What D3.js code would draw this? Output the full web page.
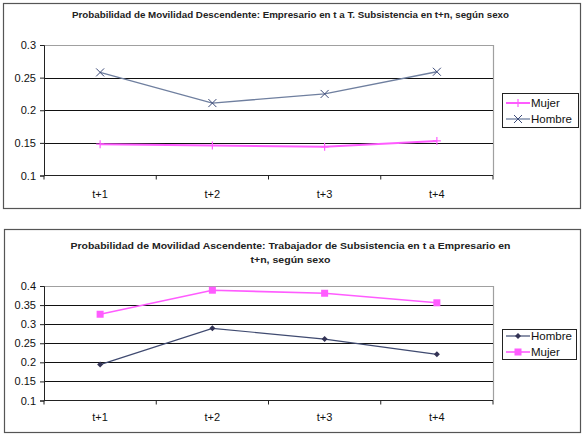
<!DOCTYPE html>
<html><head><meta charset="utf-8">
<script src="https://cdn.jsdelivr.net/npm/d3@7"></script>
<style>html,body{margin:0;padding:0;background:#fff;}svg{display:block;}</style>
</head><body>
<svg id="chart" width="584" height="438"></svg>
<script>
const categories = ["t+1", "t+2", "t+3", "t+4"];
const descTitle = ["Probabilidad de Movilidad Descendente: Empresario en t a T. Subsistencia en t+n, según sexo"];
const descMujer = [0.148, 0.146, 0.144, 0.153];
const descHombre = [0.258, 0.211, 0.225, 0.259];
const descTicks = [0.1, 0.15, 0.2, 0.25, 0.3];
const ascTitle = ["Probabilidad de Movilidad Ascendente: Trabajador de Subsistencia en t a Empresario en", "t+n, según sexo"];
const ascHombre = [0.194, 0.289, 0.261, 0.221];
const ascMujer = [0.326, 0.389, 0.381, 0.356];
const ascTicks = [0.1, 0.15, 0.2, 0.25, 0.3, 0.35, 0.4];

const FONT = "'Liberation Sans', Arial, sans-serif";
const svg = d3.select("#chart");

function marker(g, type, x, y, color) {
  if (type === "plus") {
    g.append("path").attr("d", `M${x-4},${y}H${x+4}M${x},${y-4}V${y+4}`)
      .attr("stroke", color).attr("stroke-width", 1.2).attr("fill", "none");
  } else if (type === "cross") {
    g.append("path").attr("d", `M${x-4},${y-4}L${x+4},${y+4}M${x-4},${y+4}L${x+4},${y-4}`)
      .attr("stroke", color).attr("stroke-width", 1).attr("fill", "none");
  } else if (type === "diamond") {
    g.append("path").attr("d", `M${x},${y-3}L${x+3},${y}L${x},${y+3}L${x-3},${y}Z`)
      .attr("fill", color);
  } else if (type === "square") {
    g.append("rect").attr("x", x-3.5).attr("y", y-3.5).attr("width", 7).attr("height", 7)
      .attr("fill", color);
  }
}

function drawChart(cfg) {
  const g = svg.append("g");
  g.append("rect").attr("x", cfg.box[0]).attr("y", cfg.box[1]).attr("width", cfg.box[2]).attr("height", cfg.box[3])
    .attr("fill", "#fff").attr("stroke", "#555").attr("stroke-width", 1.2);
  cfg.title.forEach((t, i) => {
    g.append("text").attr("x", cfg.titleX).attr("y", cfg.titleY + i * 14)
      .attr("text-anchor", "middle").attr("font-family", FONT).attr("font-weight", "bold")
      .attr("font-size", 9.6).attr("fill", "#222")
      .attr("textLength", cfg.titleLen[i]).attr("lengthAdjust", "spacingAndGlyphs")
      .text(t);
  });
  const x = d3.scaleBand().domain(categories).range([cfg.plot[0], cfg.plot[1]]);
  const y = d3.scaleLinear().domain([cfg.ticks[0], cfg.ticks[cfg.ticks.length - 1]]).range([cfg.plot[3], cfg.plot[2]]);
  g.append("path").attr("d", `M${cfg.plot[0]},${cfg.plot[2]+0.5}H${cfg.plot[1]+0.5}V${cfg.plot[3]}`)
    .attr("stroke", "#a0a0a0").attr("stroke-width", 1.2).attr("fill", "none");
  cfg.ticks.slice(1, -1).forEach(t => {
    g.append("line").attr("x1", cfg.plot[0]).attr("x2", cfg.plot[1]).attr("y1", Math.round(y(t)) + 0.5).attr("y2", Math.round(y(t)) + 0.5)
      .attr("stroke", "#111").attr("stroke-width", 1.1);
  });
  const yAxis = d3.axisLeft(y).tickValues(cfg.ticks).tickSize(4).tickFormat(d => String(d));
  const ya = g.append("g").attr("transform", `translate(${cfg.plot[0]},0)`).call(yAxis);
  ya.select(".domain").attr("stroke", "#222");
  ya.selectAll(".tick line").attr("stroke", "#222");
  ya.selectAll("text").attr("font-family", FONT).attr("font-size", 11).attr("fill", "#111").attr("dx", -1);
  const bounds = categories.map(c => x(c)).concat([cfg.plot[1]]);
  const xa = g.append("g").attr("transform", `translate(0,${cfg.plot[3]})`);
  xa.append("line").attr("x1", cfg.plot[0]).attr("x2", cfg.plot[1]).attr("stroke", "#222").attr("stroke-width", 1.2);
  bounds.forEach(b => xa.append("line").attr("x1", b).attr("x2", b).attr("y1", 0).attr("y2", 4).attr("stroke", "#222"));
  categories.forEach(c => xa.append("text").attr("x", x(c) + x.bandwidth() / 2).attr("y", cfg.xLabelDy)
    .attr("text-anchor", "middle").attr("font-family", FONT).attr("font-size", 11).attr("fill", "#111").text(c));
  const line = d3.line().x((d, i) => x(categories[i]) + x.bandwidth() / 2).y(d => y(d));
  cfg.series.forEach(s => {
    g.append("path").datum(s.values).attr("d", line).attr("fill", "none")
      .attr("stroke", s.color).attr("stroke-width", s.width);
    s.values.forEach((v, i) => marker(g, s.marker, x(categories[i]) + x.bandwidth() / 2, y(v), s.mcolor));
  });
  const L = cfg.legend;
  g.append("rect").attr("x", L.x + 0.5).attr("y", L.y + 0.5).attr("width", L.w).attr("height", L.h)
    .attr("fill", "#fff").attr("stroke", "#222").attr("stroke-width", 1);
  L.order.forEach((idx, k) => {
    const s = cfg.series[idx];
    const ly = L.y + L.first + k * L.step;
    g.append("line").attr("x1", L.x + 4).attr("x2", L.x + 28).attr("y1", ly).attr("y2", ly)
      .attr("stroke", s.color).attr("stroke-width", s.width);
    marker(g, s.marker, L.x + 16, ly, s.mcolor);
    g.append("text").attr("x", L.x + 29).attr("y", ly + 4).attr("font-family", FONT).attr("font-size", 11.5)
      .attr("fill", "#111").text(s.name);
  });
}

drawChart({
  box: [3.5, 3.5, 577, 205],
  title: descTitle, titleX: 290.5, titleY: 18, titleLen: [437],
  plot: [44, 493, 45, 175.5],
  ticks: descTicks,
  xLabelDy: 22,
  series: [
    { name: "Mujer", values: descMujer, color: "#ff5cff", width: 2, marker: "plus", mcolor: "#ff5cff" },
    { name: "Hombre", values: descHombre, color: "#6f7f9f", width: 1.3, marker: "cross", mcolor: "#3c4a78" }
  ],
  legend: { x: 502, y: 93, w: 76, h: 34, first: 10, step: 16, order: [0, 1] }
});

drawChart({
  box: [4.5, 229.5, 576, 203],
  title: ascTitle, titleX: 290.5, titleY: 249, titleLen: [440, 80],
  plot: [44, 493, 286, 400.5],
  ticks: ascTicks,
  xLabelDy: 20,
  series: [
    { name: "Hombre", values: ascHombre, color: "#3f4a70", width: 1.2, marker: "diamond", mcolor: "#333355" },
    { name: "Mujer", values: ascMujer, color: "#ff5cff", width: 1.6, marker: "square", mcolor: "#ff5cff" }
  ],
  legend: { x: 502, y: 329, w: 74, h: 30, first: 7, step: 16, order: [0, 1] }
});
</script>
</body></html>
